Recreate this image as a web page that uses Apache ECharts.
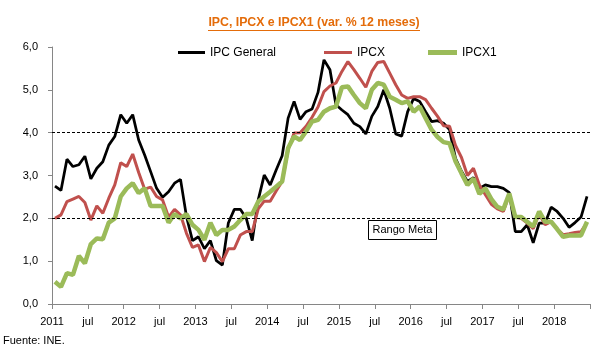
<!DOCTYPE html>
<html><head><meta charset="utf-8">
<script src="https://cdn.jsdelivr.net/npm/echarts@6/dist/echarts.min.js"></script>
<style>html,body{margin:0;padding:0;background:#fff}#c{width:606px;height:355px}</style>
</head><body><div id="c"></div>
<script>
// Monthly series, Jan 2011 .. Jun 2018 (90 months)
const ipcGeneral = [
  2.75, 2.65, 3.38, 3.21, 3.25, 3.45, 2.92, 3.17, 3.32, 3.71, 3.91, 4.42,
  4.22, 4.42, 3.83, 3.48, 3.09, 2.70, 2.49, 2.62, 2.82, 2.91, 2.04, 1.48,
  1.57, 1.29, 1.48, 1.01, 0.91, 1.89, 2.21, 2.21, 2.00, 1.48, 2.43, 3.01,
  2.78, 3.13, 3.46, 4.34, 4.73, 4.31, 4.49, 4.55, 4.94, 5.70, 5.47, 4.65,
  4.53, 4.42, 4.22, 4.14, 3.97, 4.38, 4.61, 5.00, 4.57, 3.97, 3.92, 4.49,
  4.80, 4.73, 4.49, 4.26, 4.28, 4.22, 4.07, 3.40, 3.10, 2.86, 2.95, 2.70,
  2.78, 2.74, 2.74, 2.70, 2.60, 1.69, 1.69, 1.85, 1.43, 1.89, 1.89, 2.26,
  2.16, 2.00, 1.79, 1.90, 2.03, 2.51
];
const ipcx = [
  2.00, 2.08, 2.39, 2.45, 2.51, 2.37, 1.96, 2.29, 2.12, 2.47, 2.78, 3.30,
  3.21, 3.50, 3.07, 2.68, 2.73, 2.51, 2.43, 2.03, 2.21, 2.08, 1.65, 1.32,
  1.38, 0.99, 1.32, 1.20, 0.99, 1.29, 1.29, 1.61, 1.69, 1.69, 2.22, 2.40,
  2.40, 2.64, 2.86, 3.60, 3.99, 4.00, 4.15, 4.36, 4.60, 4.96, 5.09, 5.16,
  5.43, 5.66, 5.47, 5.27, 5.06, 5.43, 5.64, 5.66, 5.39, 5.12, 4.88, 4.80,
  4.84, 4.84, 4.77, 4.57, 4.38, 4.16, 4.15, 3.70, 3.42, 3.00, 3.17, 2.78,
  2.55, 2.33, 2.22, 2.16, 2.55, 2.03, 2.00, 1.89, 1.76, 2.10, 1.85, 1.92,
  1.75, 1.62, 1.64, 1.67, 1.69, 1.90
];
const ipcx1 = [
  0.52, 0.40, 0.72, 0.68, 1.12, 0.95, 1.40, 1.53, 1.51, 1.90, 2.00, 2.51,
  2.70, 2.82, 2.59, 2.70, 2.29, 2.29, 2.29, 1.90, 2.10, 2.00, 2.10, 1.85,
  1.73, 1.50, 1.90, 1.61, 1.73, 1.73, 1.81, 1.96, 2.10, 2.10, 2.39, 2.51,
  2.62, 2.74, 2.86, 3.64, 3.91, 3.83, 4.03, 4.26, 4.30, 4.49, 4.57, 4.61,
  5.06, 5.08, 4.88, 4.69, 4.57, 5.00, 5.16, 5.12, 4.84, 4.77, 4.69, 4.73,
  4.49, 4.61, 4.34, 4.07, 3.90, 3.78, 3.75, 3.33, 3.05, 2.78, 2.93, 2.57,
  2.70, 2.45, 2.27, 2.21, 2.58, 2.03, 2.03, 1.92, 1.81, 2.16, 1.92, 1.92,
  1.75, 1.57, 1.60, 1.60, 1.60, 1.92
];
// Tick labels every 6 months starting Jan 2011
const xTickLabels = ['2011','jul','2012','jul','2013','jul','2014','jul','2015','jul','2016','jul','2017','jul','2018',''];
const targetRange = [2, 4];
const seriesNames = ['IPC General', 'IPCX', 'IPCX1'];
const titleText = 'IPC, IPCX e IPCX1 (var. % 12 meses)';
const sourceText = 'Fuente: INE.';
const rangeLabel = 'Rango Meta';

const toPts = arr => arr.map((v, i) => [i + 0.5, v]); // mid-month position
const font = 'Liberation Sans, Arial, sans-serif';

const chart = echarts.init(document.getElementById('c'), null, {renderer: 'canvas'});
chart.setOption({
  animation: false,
  backgroundColor: '#fff',
  grid: {left: 52, right: 16, top: 47, bottom: 51},
  legend: [
    {left: 173, top: 41.5, icon: 'rect', itemWidth: 27, itemHeight: 3, data: [seriesNames[0]],
     textStyle: {fontFamily: font, fontSize: 12, color: '#000'}},
    {left: 319, top: 41.5, icon: 'rect', itemWidth: 28, itemHeight: 3, data: [seriesNames[1]],
     textStyle: {fontFamily: font, fontSize: 12, color: '#000'}},
    {left: 423, top: 41.5, icon: 'rect', itemWidth: 29, itemHeight: 5, data: [seriesNames[2]],
     textStyle: {fontFamily: font, fontSize: 12, color: '#000'}}
  ],
  xAxis: {
    type: 'value', min: 0, max: 90, interval: 6,
    axisLine: {show: true, lineStyle: {color: '#868686', width: 1}},
    axisTick: {show: true, length: 5, lineStyle: {color: '#868686'}},
    splitLine: {show: false},
    axisLabel: {
      fontFamily: font, fontSize: 11, color: '#000', margin: 12,
      formatter: v => xTickLabels[Math.round(v / 6)] || ''
    }
  },
  yAxis: {
    type: 'value', min: 0, max: 6, interval: 1,
    axisLine: {show: true, lineStyle: {color: '#868686', width: 1}},
    axisTick: {show: true, length: 4, lineStyle: {color: '#868686'}},
    splitLine: {show: false},
    axisLabel: {
      fontFamily: font, fontSize: 11, color: '#000', margin: 14,
      formatter: v => v.toFixed(1).replace('.', ',')
    }
  },
  series: [
    {name: seriesNames[0], type: 'line', data: toPts(ipcGeneral), showSymbol: false, symbol: 'none',
     lineStyle: {color: '#000000', width: 2.75}, itemStyle: {color: '#000000'},
     markLine: {silent: true, symbol: 'none', label: {show: false},
       lineStyle: {color: '#000', width: 1, type: [3, 2]},
       data: targetRange.map(v => ({yAxis: v}))}},
    {name: seriesNames[1], type: 'line', data: toPts(ipcx), showSymbol: false, symbol: 'none',
     lineStyle: {color: '#C0504D', width: 3}, itemStyle: {color: '#C0504D'}},
    {name: seriesNames[2], type: 'line', data: toPts(ipcx1), showSymbol: false, symbol: 'none',
     lineStyle: {color: '#9BBB59', width: 4.5}, itemStyle: {color: '#9BBB59'}}
  ],
  graphic: [
    {type: 'text', x: 314, y: 23, style: {text: titleText, fontFamily: font, fontSize: 12.3, fontWeight: 'bold', fill: '#E46C0A', align: 'center', verticalAlign: 'middle'}},
    {type: 'line', shape: {x1: 208, y1: 30.5, x2: 420, y2: 30.5}, style: {stroke: '#E46C0A', lineWidth: 1}},
    {type: 'rect', shape: {x: 368.5, y: 220.5, width: 68, height: 19}, style: {fill: '#fff', stroke: '#000', lineWidth: 1}, z: 10},
    {type: 'text', x: 402.5, y: 230, style: {text: rangeLabel, fontFamily: font, fontSize: 11, fill: '#000', align: 'center', verticalAlign: 'middle'}, z: 11},
    {type: 'text', left: 3, top: 335, style: {text: sourceText, fontFamily: font, fontSize: 11, fill: '#000'}}
  ]
});
</script></body></html>
